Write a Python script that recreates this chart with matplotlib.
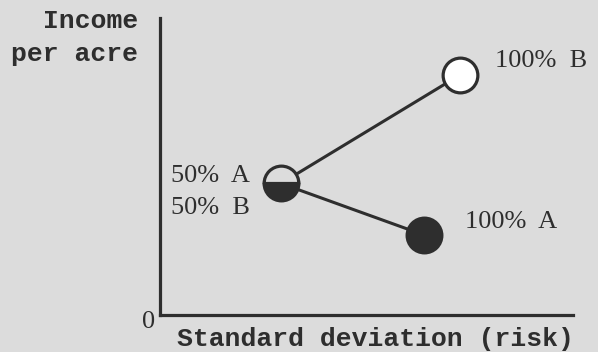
import matplotlib.pyplot as plt

# portfolio points: (risk, income)
labels = ["50%  A", "50%  B", "100%  B", "100%  A"]
risk = [2.93, 7.26, 6.40]
income = [4.43, 8.08, 2.69]

bg = "#dcdcdc"
ink = "#2e2e2e"
W, H = 598, 352


def px(x, y):
    # pixel position -> figure fraction
    return x / W, 1 - y / H


fig = plt.figure(figsize=(W / 100, H / 100), dpi=100, facecolor=bg)
ax = fig.add_axes([160 / W, 37 / H, 413 / W, 297 / H], facecolor=bg)
ax.set_xlim(0, 10)
ax.set_ylim(0, 10)

for s in ["top", "right"]:
    ax.spines[s].set_visible(False)
for s in ["left", "bottom"]:
    ax.spines[s].set_linewidth(2.3)
    ax.spines[s].set_color(ink)
ax.set_xticks([])
ax.set_yticks([])

# lines from the mixed portfolio to the two pure ones
for i in [1, 2]:
    ax.plot([risk[0], risk[i]], [income[0], income[i]], color=ink, lw=2.2, zorder=1)

ms = 25
ax.plot(risk[0], income[0], "o", ms=ms, mec=ink, mew=2.3, mfc=ink,
        fillstyle="bottom", markerfacecoloralt=bg, zorder=3)
ax.plot(risk[1], income[1], "o", ms=ms, mec=ink, mew=2.3, mfc="white", zorder=3)
ax.plot(risk[2], income[2], "o", ms=ms, mec=ink, mew=2.3, mfc=ink, zorder=3)

serif = dict(color=ink, fontfamily="Liberation Serif", fontsize=19, va="baseline")
mono = dict(color=ink, fontfamily="Liberation Mono", fontweight="bold", fontsize=19,
            va="baseline")

fig.text(*px(171, 182), labels[0], ha="left", **serif)
fig.text(*px(171, 214), labels[1], ha="left", **serif)
fig.text(*px(495, 67), labels[2], ha="left", **serif)
fig.text(*px(465, 228), labels[3], ha="left", **serif)
fig.text(*px(155, 328), "0", ha="right", **serif)

fig.text(*px(138, 28), "Income", ha="right", **mono)
fig.text(*px(138, 61), "per acre", ha="right", **mono)
fig.text(*px(574, 346), "Standard deviation (risk)", ha="right", **mono)

fig.savefig("out.png", dpi=100, facecolor=bg)
